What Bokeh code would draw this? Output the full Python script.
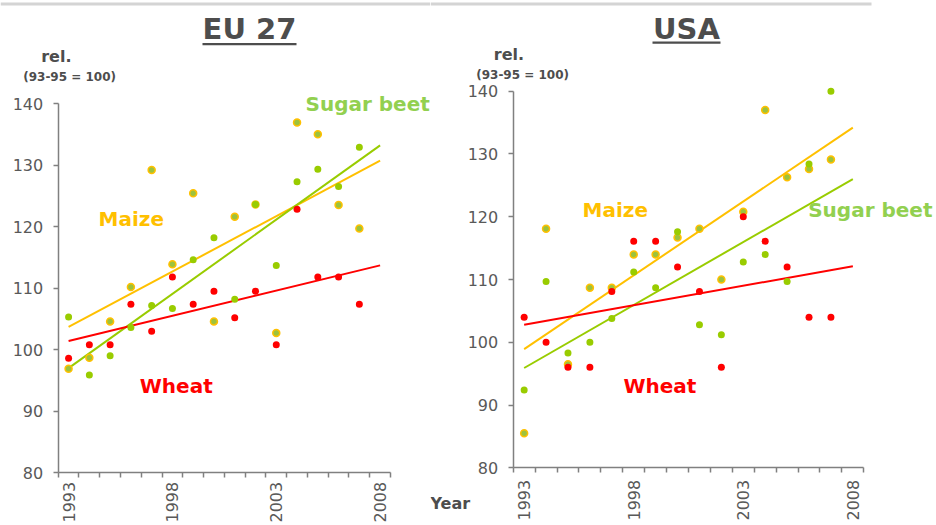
import math
from bokeh.plotting import figure
from bokeh.models import FixedTicker, Label, BoxAnnotation, Range1d
from bokeh.layouts import row
from bokeh.embed import file_html
from bokeh.resources import INLINE

# ---------------- data ----------------
years = [1993, 1994, 1995, 1996, 1997, 1998, 1999, 2000,
         2001, 2002, 2003, 2004, 2005, 2006, 2007]
year_labels = [1993, 1998, 2003, 2008]
y_ticks = [80, 90, 100, 110, 120, 130, 140]

eu_wheat = [98.6, 100.8, 100.8, 107.4, 103.0, 111.8, 107.4, 109.5,
            105.2, 109.5, 100.8, 122.8, 111.8, 111.8, 107.4]
eu_maize = [96.9, 98.7, 104.6, 110.2, 129.2, 113.9, 125.4, 104.6,
            121.6, 123.6, 102.7, 136.9, 135.0, 123.5, 119.7]
eu_sugar = [105.3, 95.9, 99.0, 103.6, 107.2, 106.7, 114.6, 118.2,
            108.2, 123.6, 113.7, 127.3, 129.3, 126.5, 132.9]

usa_wheat = [104.0, 100.0, 96.0, 96.0, 108.1, 116.1, 116.1, 112.0,
             108.1, 96.0, 120.0, 116.1, 112.0, 104.0, 104.0]
usa_maize = [85.5, 118.1, 96.5, 108.7, 108.7, 114.0, 114.0, 116.7,
             118.1, 110.0, 120.8, 137.0, 126.3, 127.6, 129.1]
usa_sugar = [92.4, 109.7, 98.3, 100.0, 103.8, 111.2, 108.7, 117.6,
             102.8, 101.2, 112.8, 114.0, 109.7, 128.4, 140.0]

trend_years = [1993, 2008]
eu_wheat_trend = [101.4, 113.7]
eu_maize_trend = [103.7, 130.7]
eu_sugar_trend = [97.0, 133.2]
usa_wheat_trend = [102.8, 112.1]
usa_maize_trend = [98.9, 134.2]
usa_sugar_trend = [95.9, 126.0]

# ---------------- style ----------------
RED = "#FF0000"
GOLD = "#FFC000"
GREEN = "#99CC00"
LABEL_GREEN = "#92D050"
MAIZE_FILL = "#9DC23C"
DARK = "#4D4D4D"
TICK_TXT = "#595959"
AXIS = "#808080"
FONT = "DejaVu Sans"
BASELINE_FIX = 0.38   # em, compensates rendered baseline offset

X_AX = (1992.5, 2008.5)
Y_AX = (80, 140)
FIG_H = 525


def make_panel(cfg):
    # cfg["axes_px"] = (left, right, top, bottom) of the axis box, in page pixels
    L, R, T, B = cfg["axes_px"]
    fx = cfg["fig_x"]
    W = cfg["width"]
    xppu = (R - L) / (X_AX[1] - X_AX[0])
    yppu = (B - T) / (Y_AX[1] - Y_AX[0])
    # ranges so that the frame covers the whole canvas
    x0 = X_AX[0] - (L - fx) / xppu
    x1 = X_AX[1] + (fx + W - R) / xppu
    y1 = Y_AX[1] + T / yppu
    y0 = Y_AX[0] - (FIG_H - B) / yppu

    p = figure(width=W, height=FIG_H, output_backend="svg", toolbar_location=None,
               title=None, x_range=Range1d(x0, x1), y_range=Range1d(y0, y1),
               min_border=0, min_border_left=0, min_border_right=0,
               min_border_top=0, min_border_bottom=0)
    p.outline_line_color = None
    p.grid.visible = False
    p.background_fill_color = "white"
    p.border_fill_color = "white"

    def to_data(px, py):
        return X_AX[0] + (px - L) / xppu, Y_AX[1] - (py - T) / yppu

    def text(txt, px, py, size, color, align="left"):
        x, y = to_data(px, py - BASELINE_FIX * size)
        p.add_layout(Label(x=x, y=y, text=txt, text_color=color, text_font=FONT,
                           text_font_style="bold", text_font_size=f"{size}px",
                           text_align=align, text_baseline="alphabetic"))

    # axes (placed at fixed data positions inside the canvas)
    xa = p.xaxis[0]
    xa.fixed_location = Y_AX[0]
    xa.bounds = X_AX
    xa.ticker = FixedTicker(ticks=year_labels,
                            minor_ticks=[X_AX[0] + i for i in range(17)])
    xa.major_tick_line_color = None
    xa.major_tick_out = 5
    xa.major_tick_in = 0
    xa.minor_tick_out = 5
    xa.minor_tick_in = 0
    xa.minor_tick_line_color = AXIS
    xa.minor_tick_line_width = 1.5
    xa.axis_line_color = AXIS
    xa.axis_line_width = 1.5
    xa.major_label_orientation = math.pi / 2
    xa.major_label_standoff = cfg["x_standoff"]
    xa.major_label_text_font = FONT
    xa.major_label_text_font_size = "16px"
    xa.major_label_text_color = TICK_TXT

    ya = p.yaxis[0]
    ya.fixed_location = X_AX[0]
    ya.bounds = Y_AX
    ya.ticker = FixedTicker(ticks=y_ticks, minor_ticks=[])
    ya.major_tick_out = 5
    ya.major_tick_in = 0
    ya.major_tick_line_color = AXIS
    ya.major_tick_line_width = 1.5
    ya.minor_tick_line_color = None
    ya.axis_line_color = AXIS
    ya.axis_line_width = 1.5
    ya.major_label_standoff = 10
    ya.major_label_text_font = FONT
    ya.major_label_text_font_size = "16px"
    ya.major_label_text_color = TICK_TXT

    # trend lines
    p.line(trend_years, cfg["maize_trend"], line_color=GOLD, line_width=2)
    p.line(trend_years, cfg["sugar_trend"], line_color=GREEN, line_width=2)
    p.line(trend_years, cfg["wheat_trend"], line_color=RED, line_width=2)

    # points
    p.scatter(years, cfg["maize"], size=7, fill_color=MAIZE_FILL,
              line_color=GOLD, line_width=1.5)
    p.scatter(years, cfg["sugar"], size=7, fill_color=GREEN, line_color=None)
    p.scatter(years, cfg["wheat"], size=7, fill_color=RED, line_color=None)

    # series labels
    for txt, (px, py), col in cfg["series_labels"]:
        text(txt, px, py, 20, col)

    # title + underline
    text(cfg["title"], cfg["title_pos"][0], cfg["title_pos"][1], 29, DARK, "center")
    ux0, uy0 = to_data(cfg["underline"][0], cfg["underline"][2])
    ux1, uy1 = to_data(cfg["underline"][1], cfg["underline"][3])
    p.add_layout(BoxAnnotation(left=ux0, right=ux1, top=uy0, bottom=uy1,
                               fill_color=DARK, fill_alpha=1.0, line_color=None))

    # axis unit text
    text("rel.", cfg["rel_pos"][0], cfg["rel_pos"][1], 16, DARK)
    text("(93-95 = 100)", cfg["base_pos"][0], cfg["base_pos"][1], 12, DARK)
    if cfg.get("year_pos"):
        text("Year", cfg["year_pos"][0], cfg["year_pos"][1], 16, DARK)

    # light grey rule at the top
    gx0, gy0 = to_data(cfg["rule"][0], 2)
    gx1, gy1 = to_data(cfg["rule"][1], 5)
    p.add_layout(BoxAnnotation(left=gx0, right=gx1, top=gy0, bottom=gy1,
                               fill_color="#D4D4D4", fill_alpha=1.0, line_color=None))
    return p


eu_cfg = dict(
    fig_x=0, width=430, axes_px=(57.7, 390.0, 103.0, 472.3), x_standoff=4,
    wheat=eu_wheat, maize=eu_maize, sugar=eu_sugar,
    wheat_trend=eu_wheat_trend, maize_trend=eu_maize_trend, sugar_trend=eu_sugar_trend,
    series_labels=[("Sugar beet", (305, 110.7), LABEL_GREEN),
                   ("Maize", (98, 226), GOLD),
                   ("Wheat", (139.3, 393.3), RED)],
    title="EU 27", title_pos=(249, 40), underline=(202, 296, 42.5, 44.8),
    rel_pos=(40.7, 61.7), base_pos=(22.7, 81),
    rule=(0, 430),
)

usa_cfg = dict(
    fig_x=430, width=506, axes_px=(512.7, 863.3, 90.7, 467.3), x_standoff=7,
    wheat=usa_wheat, maize=usa_maize, sugar=usa_sugar,
    wheat_trend=usa_wheat_trend, maize_trend=usa_maize_trend, sugar_trend=usa_sugar_trend,
    series_labels=[("Maize", (582, 217), GOLD),
                   ("Sugar beet", (807.7, 217), LABEL_GREEN),
                   ("Wheat", (623, 393), RED)],
    title="USA", title_pos=(686, 40), underline=(652, 720, 41, 43.3),
    rel_pos=(493.3, 60), base_pos=(475.7, 79),
    year_pos=(430, 509),
    rule=(430, 871),
)

p1 = make_panel(eu_cfg)
p2 = make_panel(usa_cfg)
layout = row(p1, p2)

open("out.html", "w").write(file_html(layout, INLINE))
